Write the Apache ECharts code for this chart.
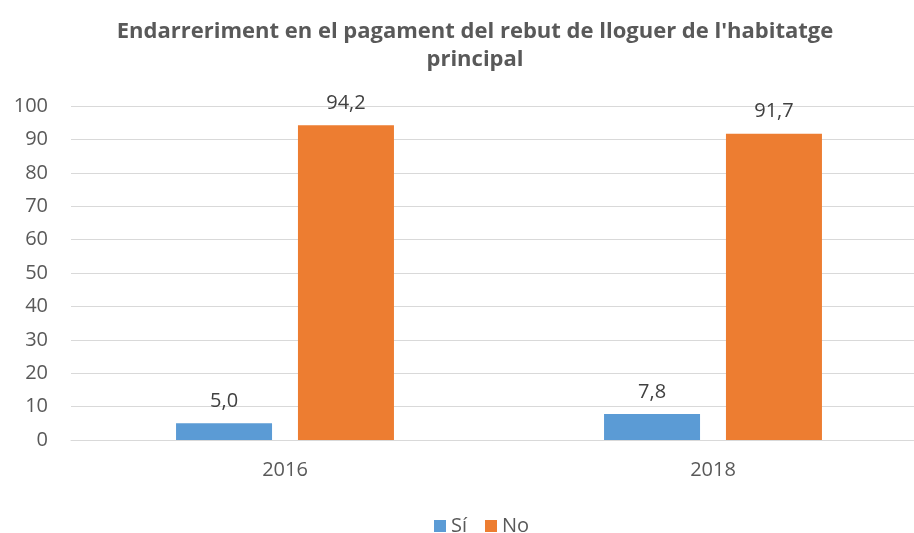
<!DOCTYPE html>
<html>
<head>
<meta charset="utf-8">
<script src="https://cdn.jsdelivr.net/npm/echarts@6/dist/echarts.min.js"></script>
<style>
  html, body { margin: 0; padding: 0; background: #fff; }
  #main { width: 914px; height: 533px; }
</style>
</head>
<body>
<div id="main"></div>
<script>
var years = ['2016', '2018'];
var siValues = [5.0, 7.8];
var noValues = [94.2, 91.7];
var seriesNames = ['Sí', 'No'];

var myChart = echarts.init(document.getElementById('main'));
var font = '"Open Sans", sans-serif';

function fmt(p) {
    return p.value.toFixed(1).replace('.', ',');
}

var option = {
    animation: false,
    title: {
        text: "Endarreriment en el pagament del rebut de lloguer de l'habitatge\nprincipal",
        left: 470,
        top: 13,
        textAlign: 'center',
        textStyle: {
            fontFamily: font,
            fontSize: 22,
            fontWeight: 'bold',
            color: '#595959',
            lineHeight: 28
        }
    },
    legend: {
        data: seriesNames,
        bottom: -8,
        left: 429,
        itemWidth: 12,
        itemHeight: 12,
        itemGap: 18,
        icon: 'rect',
        textStyle: { fontFamily: font, fontSize: 20, color: '#595959' }
    },
    grid: {
        left: 71,
        top: 106,
        bottom: 93,
        width: 856,
        outerBoundsMode: 'none'
    },
    xAxis: {
        type: 'category',
        data: years,
        axisLine: { lineStyle: { color: '#d9d9d9', width: 1 } },
        axisTick: { show: false },
        axisLabel: { fontFamily: font, fontSize: 20, color: '#595959', margin: 20 }
    },
    yAxis: {
        type: 'value',
        min: 0,
        max: 100,
        interval: 10,
        axisLine: { show: false },
        axisTick: { show: false },
        splitLine: { lineStyle: { color: '#d9d9d9', width: 1 } },
        axisLabel: { fontFamily: font, fontSize: 20, color: '#595959', margin: 23 }
    },
    series: [
        {
            name: seriesNames[0],
            type: 'bar',
            data: siValues,
            barWidth: 96,
            barGap: '27%',
            itemStyle: { color: '#5B9BD5' },
            label: { show: true, position: 'top', distance: 12, formatter: fmt,
                     fontFamily: font, fontSize: 20, color: '#404040' }
        },
        {
            name: seriesNames[1],
            type: 'bar',
            data: noValues,
            barWidth: 96,
            barGap: '27%',
            itemStyle: { color: '#ED7D31' },
            label: { show: true, position: 'top', distance: 12, formatter: fmt,
                     fontFamily: font, fontSize: 20, color: '#404040' }
        }
    ]
};

myChart.setOption(option);
</script>
</body>
</html>
